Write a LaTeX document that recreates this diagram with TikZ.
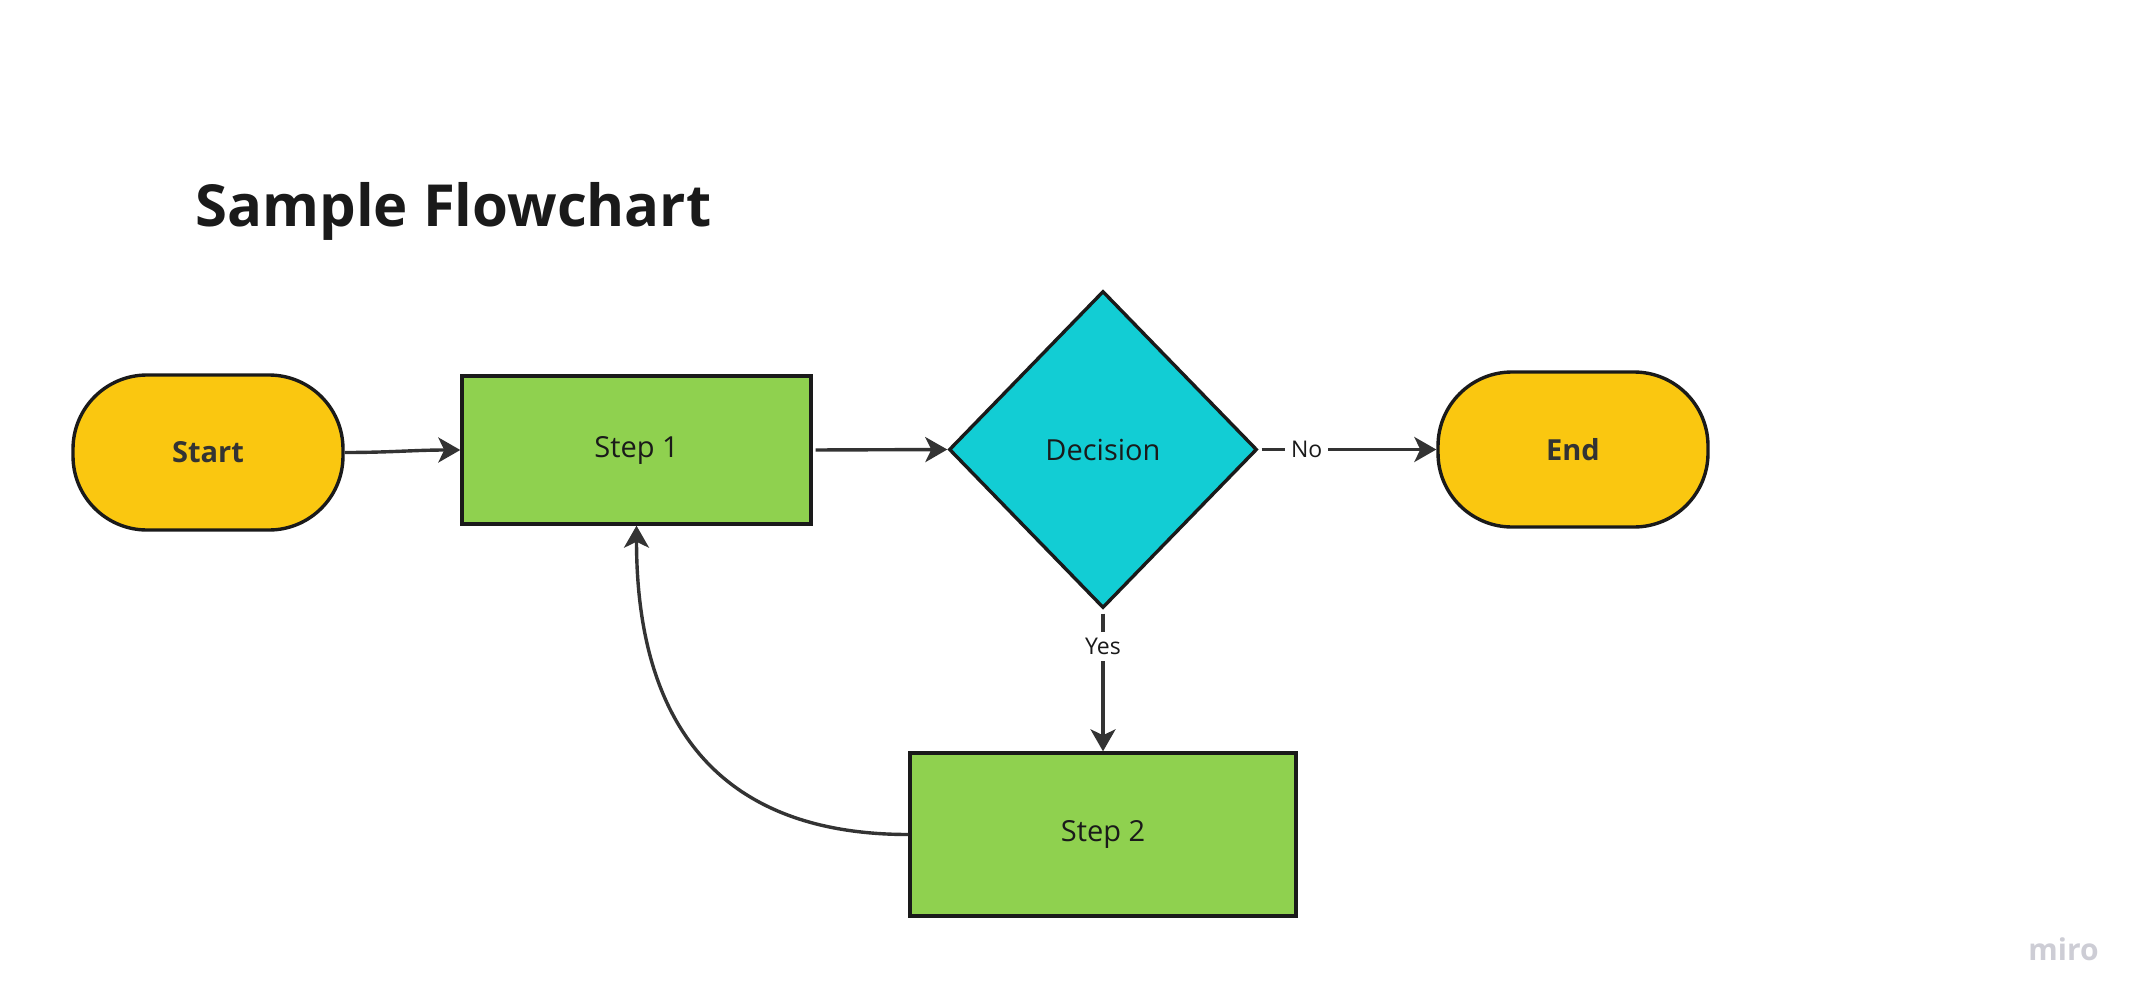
\documentclass[tikz,border=0pt]{standalone}
\usepackage{fontspec}
\setmainfont{Open Sans}
\usetikzlibrary{arrows.meta,shapes.geometric}
\definecolor{myyellow}{HTML}{FAC710}
\definecolor{mygreen}{HTML}{8FD14F}
\definecolor{mycyan}{HTML}{12CDD4}
\definecolor{edgecol}{HTML}{1A1A1A}
\definecolor{arrowcol}{HTML}{333333}
\definecolor{txtcol}{HTML}{1A1A1A}
\definecolor{wmcol}{HTML}{CDCDD5}
\begin{document}
\begin{tikzpicture}[x=0.5pt,y=-0.5pt,
  base/.style={draw=edgecol, line width=1.7pt, text=txtcol, font=\fontsize{14.5}{16}\selectfont, inner sep=0pt},
  terminal/.style={base, fill=myyellow, rectangle, rounded corners=37pt, minimum width=135pt, minimum height=77.5pt, font=\fontsize{14.5}{16}\selectfont\bfseries, text=arrowcol},
  process/.style={base, fill=mygreen, rectangle},
  decisionbox/.style={base, fill=mycyan, diamond, minimum width=154pt, minimum height=158.5pt},
  conn/.style={draw=arrowcol, line width=1.7pt, -{Stealth[length=11pt,width=12.5pt,inset=3pt]}},
  lbl/.style={fill=white, text=txtcol, font=\fontsize{11.5}{13}\selectfont, inner sep=3pt},
  titlestyle/.style={anchor=base west, inner sep=0pt, text=txtcol, font=\fontsize{29}{35}\selectfont\bfseries},
  wmstyle/.style={anchor=base east, inner sep=0pt, text=wmcol, font=\fontsize{15}{18}\selectfont\bfseries}
]
\fill[white] (0,0) rectangle (2151,995);
\useasboundingbox (0,0) rectangle (2151,995);

\node[titlestyle] (title) at (195,226) {Sample Flowchart};

\node[terminal] (start) at (208,452.5) {Start};
\node[process, minimum width=174.5pt, minimum height=74pt] (step1) at (636.5,450) {Step 1};
\node[decisionbox] (dec) at (1103,449.5) {Decision};
\node[terminal] (end) at (1573,449.5) {End};
\node[process, minimum width=193pt, minimum height=81.5pt] (step2) at (1103,834.5) {Step 2};

\draw[conn] (start.east) to[out=0,in=180] (step1.west);
\draw[conn, shorten <=1.5pt] (step1.east) -- (dec.west);
\draw[conn, shorten <=1.5pt] (dec.east) -- node[lbl, pos=0.27] (nolbl) {No} (end.west);
\draw[conn, shorten <=2pt] (dec.south) -- node[lbl, pos=0.26] (yeslbl) {Yes} (step2.north);
\draw[conn] (step2.west) to[out=180,in=-90,looseness=1.2] (step1.south);

\node[wmstyle] (wm) at (2099,960) {miro};
\end{tikzpicture}
\end{document}
